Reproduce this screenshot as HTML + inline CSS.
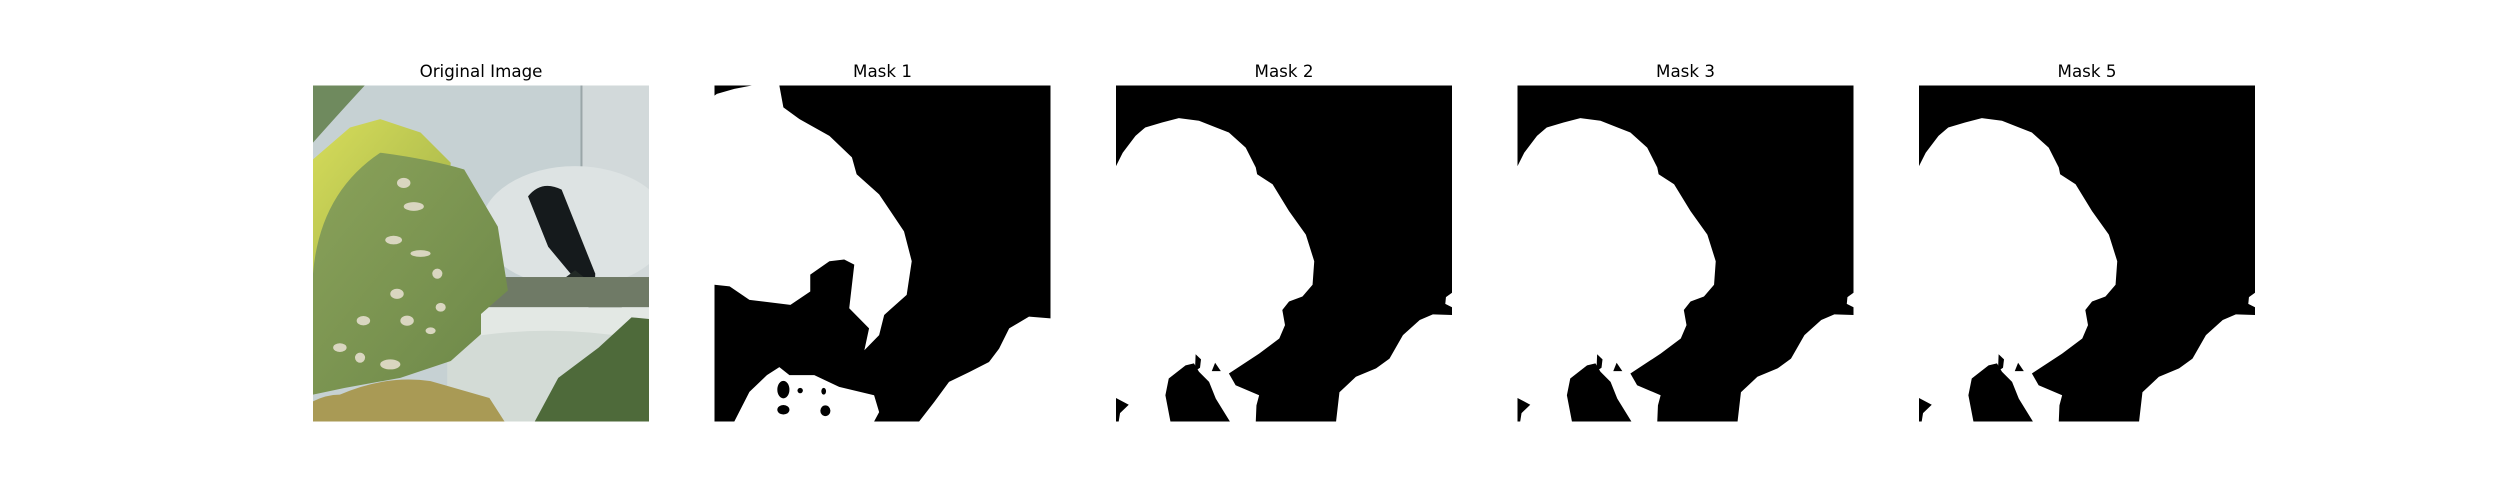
<!DOCTYPE html>
<html><head><meta charset="utf-8"><style>
html,body{margin:0;padding:0;background:#fff;width:2500px;height:500px;overflow:hidden}
svg text{font-family:"DejaVu Sans","Liberation Sans",sans-serif;font-size:16.7px;fill:#000}
</style></head><body>
<svg width="2500" height="500" viewBox="0 0 2500 500">
<defs>
<clipPath id="cp"><rect x="0" y="0" width="100" height="100"/></clipPath>
<linearGradient id="yl" x1="0" y1="0" x2="1" y2="1"><stop offset="0" stop-color="#d6dc5a"/><stop offset="1" stop-color="#9fb048"/></linearGradient>
<linearGradient id="lf" x1="0" y1="0" x2="1" y2="1"><stop offset="0" stop-color="#8aa25a"/><stop offset="1" stop-color="#6c8748"/></linearGradient>
<g id="mask2">
<rect x="0" y="0" width="100" height="100" fill="#000"/>
<path fill="#fff" d="M0,24 L2,20 L5.8,15 L8.7,12.5 L13.7,11 L18.7,9.7 L24.7,10.5 L33.6,14 L38.6,18.5 L41.6,24.4 L42,26.4 L46.6,29.4 L51.5,37.4 L56.5,44.4 L59,52.3 L58.5,59.3 L55.5,62.8 L51.5,64.3 L49.5,66.8 L50.3,71.3 L48.6,75.3 L42.6,79.8 L33.6,85.7 L35.6,89.2 L42.6,92.2 L41.8,95.2 L41.6,100 L33.9,100 L29.7,93.2 L27.7,88.2 L24.7,85.2 L23.2,82.7 L20.7,83.3 L15.7,87.2 L14.7,92.2 L16.2,100 L0,100 Z"/>
<path fill="#000" d="M0,93 L3.8,95 L1.2,97.5 L0.8,100 L0,100 Z"/>
<path fill="#000" d="M23.7,80 L25.3,81.5 L25,84 L23.5,85 Z"/>
<path fill="#000" d="M29.5,82.5 L31.2,85 L28.5,85 Z"/>
<path fill="#fff" d="M65.5,100 L66.5,91.3 L71.4,86.7 L77.4,84.2 L81.4,81.3 L85.4,74.3 L90.4,69.8 L94.3,68.1 L100,68.3 L100,100 Z"/>
<path fill="#fff" d="M100,61.7 L98.2,63 L98,65 L100,66 Z"/>
</g>
<g id="mask1">
<rect x="0" y="0" width="100" height="100" fill="#000"/>
<path fill="#fff" d="M0,11 L0,3 L0.7,2.5 L5.9,1 L11.1,0 L19.3,0 L20.5,6.5 L25.3,10 L34.2,15 L40.9,21.4 L42.3,26.4 L49,32.4 L56.4,43.4 L58.7,52.3 L57.2,62.3 L50.5,68.3 L49,74.3 L44.6,78.8 L46,72.3 L40.1,66.3 L41.6,53.3 L38.6,51.8 L34.2,52.3 L28.5,56.3 L28.5,61.3 L22.6,65.3 L10.4,63.8 L4.5,59.8 L0,59.3 Z"/>
<path fill="#fff" d="M5.9,100 L10.4,91.2 L15.6,86.2 L19.3,83.8 L22.3,86.2 L29.7,86.2 L37.1,89.7 L47.5,92.2 L49,97.2 L47.5,100 Z"/>
<ellipse cx="20.5" cy="90.5" rx="1.8" ry="2.6" fill="#000"/>
<ellipse cx="25.5" cy="90.8" rx="0.8" ry="0.8" fill="#000"/>
<ellipse cx="20.5" cy="96.5" rx="1.8" ry="1.4" fill="#000"/>
<ellipse cx="33" cy="96.8" rx="1.5" ry="1.6" fill="#000"/>
<ellipse cx="32.5" cy="91" rx="0.7" ry="1" fill="#000"/>
<path fill="#fff" d="M60.9,100 L65.4,94.2 L69.8,88.2 L75.8,85.3 L81.7,82.3 L84.7,78.3 L87.7,72.3 L93.6,68.8 L100,69.3 L100,100 Z"/>
</g>
</defs>

<text x="481" y="77" text-anchor="middle">Original Image</text>
<g transform="translate(313,85.5) scale(3.36)" clip-path="url(#cp)">
<rect width="100" height="100" fill="#c6d1d3"/>
<rect x="80" y="0" width="20" height="60" fill="#d2d9da"/>
<rect x="79.6" y="0" width="0.6" height="60" fill="#9aa6a8"/>
<ellipse cx="78" cy="42" rx="28" ry="18" fill="#dde3e3"/>
<path d="M64,33 Q68,28 74,31 L84,56 Q84,62 80,60 L70,48 Z" fill="#151a1c"/>
<path d="M78,55 L92,66 L84,68 L74,58 Z" fill="#222a26"/>
<rect x="50" y="57" width="50" height="9" fill="#6f7a66"/>
<rect x="40" y="66" width="60" height="34" fill="#e3e8e4"/>
<path d="M40,76 Q70,70 100,76 L100,100 L40,100 Z" fill="#d3dbd6"/>
<path d="M0,0 L15.4,0 Q8,8 0,17 Z" fill="#6f8a5e"/>
<path d="M0,22 L11,12.5 L20,10 L32,14 L41,23 L40,35 L20,45 L0,60 Z" fill="url(#yl)"/>
<path d="M0,56 Q2,32 20,20 Q35,22 45,25 L55,42 L58,61 L50,68 L50,74 L41,82 L26,87 L9.5,90 L0,92 Z" fill="url(#lf)"/>
<g fill="#d9d6c0">
<ellipse cx="27" cy="29" rx="2" ry="1.5"/><ellipse cx="30" cy="36" rx="3" ry="1.3"/><ellipse cx="24" cy="46" rx="2.5" ry="1.3"/><ellipse cx="32" cy="50" rx="3" ry="1"/><ellipse cx="37" cy="56" rx="1.5" ry="1.5"/><ellipse cx="25" cy="62" rx="2" ry="1.5"/><ellipse cx="38" cy="66" rx="1.5" ry="1.3"/><ellipse cx="15" cy="70" rx="2" ry="1.4"/><ellipse cx="28" cy="70" rx="2" ry="1.5"/><ellipse cx="8" cy="78" rx="2" ry="1.3"/><ellipse cx="23" cy="83" rx="3" ry="1.5"/><ellipse cx="14" cy="81" rx="1.5" ry="1.5"/><ellipse cx="35" cy="73" rx="1.5" ry="1"/>
</g>
<path d="M0,100 L0,94 Q4,92 8,92 Q22,86 35,88 L52.5,93 L57,100 Z" fill="#a99a55"/>
<path d="M66,100 L73,87 L85,78 L94.8,69 L100,69.5 L100,100 Z" fill="#4e6a3a"/>
</g>

<text x="882.5" y="77" text-anchor="middle">Mask 1</text>
<use href="#mask1" transform="translate(714.5,85.5) scale(3.36)"/>

<text x="1284" y="77" text-anchor="middle">Mask 2</text>
<use href="#mask2" transform="translate(1116,85.5) scale(3.36)"/>

<text x="1685.5" y="77" text-anchor="middle">Mask 3</text>
<use href="#mask2" transform="translate(1517.5,85.5) scale(3.36)"/>

<text x="2087" y="77" text-anchor="middle">Mask 5</text>
<use href="#mask2" transform="translate(1919,85.5) scale(3.36)"/>
</svg>
</body></html>
